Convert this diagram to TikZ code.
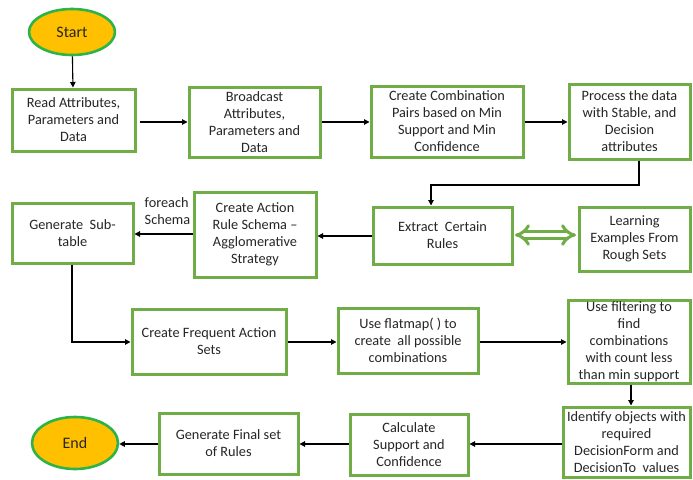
\documentclass[tikz,border=0pt]{standalone}
\usepackage{fontspec}
\setmainfont{Carlito}
\usetikzlibrary{arrows.meta,shapes.geometric}
\definecolor{boxgreen}{HTML}{70AD47}
\definecolor{ovalgreen}{HTML}{2DB34A}
\definecolor{gold}{HTML}{FFC000}
\tikzset{
  stepbox/.style={draw=boxgreen, line width=3pt, fill=white, align=center, inner sep=1pt,
    font=\fontsize{14.3}{17}\selectfont, text=black!85},
  oval/.style={ellipse, draw=ovalgreen, line width=2.6pt, fill=gold, inner sep=0pt,
    font=\fontsize{16}{19}\selectfont, text=black!85},
  flow/.style={line width=1.1pt, -{Triangle[length=5.5pt,width=5.5pt]}},
  lbl/.style={align=left, font=\fontsize{14.3}{17}\selectfont, text=black!85, inner sep=0pt}
}
\begin{document}
\begin{tikzpicture}[x=1pt,y=-1pt]
\useasboundingbox (0,0) rectangle (693,479);
\fill[white] (0,0) rectangle (693,479);
% nodes
\node[oval, minimum width=86pt, minimum height=46pt] (start) at (72,32) {Start};
\node[stepbox, minimum width=123pt, minimum height=62pt] (read) at (73.5,120) {Read Attributes,\\Parameters and\\Data};
\node[stepbox, minimum width=131pt, minimum height=70pt] (broad) at (254.5,122) {Broadcast\\Attributes,\\Parameters and\\Data};
\node[stepbox, minimum width=152pt, minimum height=71pt] (comb) at (447,121.5) {Create Combination\\Pairs based on Min\\Support and Min\\Confidence};
\node[stepbox, minimum width=121pt, minimum height=75pt] (proc) at (629.5,121.5) {Process the data\\with Stable, and\\Decision\\attributes};
\node[stepbox, minimum width=139pt, minimum height=57pt] (extract) at (442.5,235.5) {Extract\ \ Certain\\Rules};
\node[stepbox, minimum width=111pt, minimum height=64pt] (learn) at (634.5,239) {Learning\\Examples From\\Rough Sets};
\node[stepbox, minimum width=122pt, minimum height=85pt] (action) at (255,234.5) {Create Action\\Rule Schema --\\Agglomerative\\Strategy};
\node[stepbox, minimum width=121pt, minimum height=60pt] (gensub) at (72.5,233) {Generate\ \ Sub-\\table};
\node[stepbox, minimum width=154pt, minimum height=65pt] (freq) at (209,341.5) {Create Frequent Action\\Sets};
\node[stepbox, minimum width=140pt, minimum height=65pt] (flat) at (408,340.5) {Use flatmap( ) to\\create\ \ all possible\\combinations};
\node[stepbox, minimum width=122pt, minimum height=83pt] (filt) at (629,341.5) {Use filtering to\\find\\combinations\\with count less\\than min support};
\node[stepbox, minimum width=127pt, minimum height=70pt] (ident) at (626.5,442) {Identify objects with\\required\\DecisionForm and\\DecisionTo\ \ values};
\node[stepbox, minimum width=118pt, minimum height=61pt] (calc) at (409,444.5) {Calculate\\Support and\\Confidence};
\node[stepbox, minimum width=139pt, minimum height=61pt] (final) at (228.5,443.5) {Generate Final set\\of Rules};
\node[oval, minimum width=86pt, minimum height=52pt] (endn) at (75,443) {End};
\node[lbl, anchor=north west] (foreach) at (144.5,197) {foreach\\Schema};
% helper coordinates
\coordinate (c1) at (639,185);
\coordinate (c2) at (431,185);
\coordinate (c3) at (72,342);
% connectors
\draw[flow] (start) -- (read);
\draw[flow, shorten <=3pt] (read.east |- 0,122) -- (broad.west |- 0,122);
\draw[flow] (broad.east |- 0,122) -- (comb.west |- 0,122);
\draw[flow] (comb.east |- 0,122) -- (proc.west |- 0,122);
\draw[flow] (proc.south -| c1) -- (c1) -- (c2) -- (extract.north -| c2);
\draw[flow] (extract.west |- 0,236) -- (action.east |- 0,236);
\draw[flow] (action.west |- 0,234) -- (gensub.east |- 0,234);
\draw[flow] (gensub.south -| c3) -- (c3) -- (freq.west |- c3);
\draw[flow] (freq.east |- 0,342) -- (flat.west |- 0,342);
\draw[flow] (flat.east |- 0,342) -- (filt.west |- 0,342);
\draw[flow] (filt.south -| 631,0) -- (ident.north -| 631,0);
\draw[flow] (ident.west |- 0,444) -- (calc.east |- 0,444);
\draw[flow] (calc.west |- 0,444) -- (final.east |- 0,444);
\draw[flow] (final.west |- 0,444) -- (endn.east |- 0,444);
\draw[draw=boxgreen, line width=3pt, double=white, double distance=4pt, {Implies[length=5pt]}-{Implies[length=5pt]}, shorten <=1.5pt, shorten >=1.5pt] (extract.east |- 0,235) -- (learn.west |- 0,235);
\end{tikzpicture}
\end{document}
